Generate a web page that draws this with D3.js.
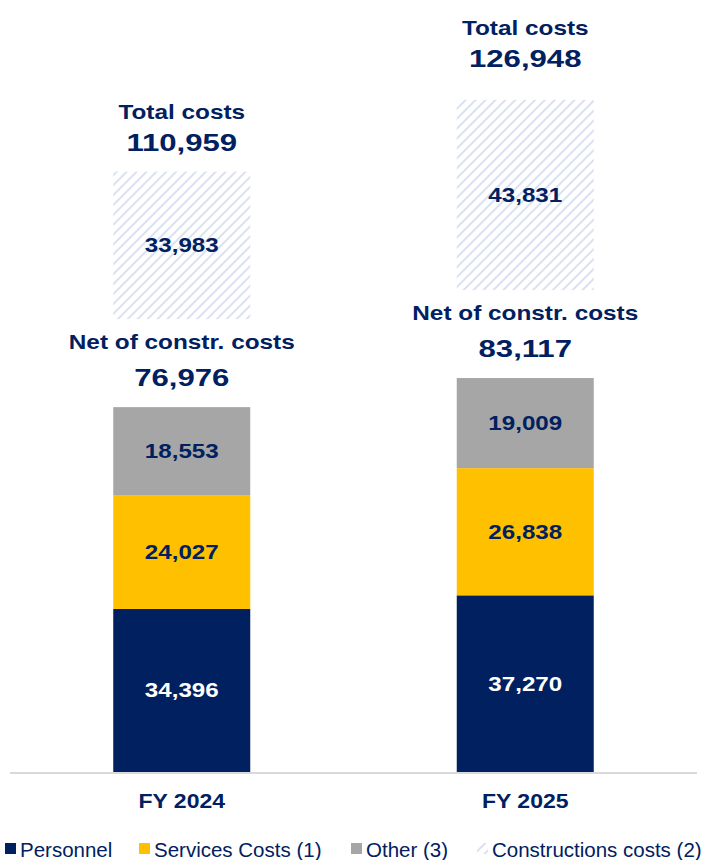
<!DOCTYPE html>
<html>
<head>
<meta charset="utf-8">
<script src="https://cdn.jsdelivr.net/npm/d3@7"></script>
<style>
  body { margin: 0; background: #fff; }
  text { font-family: "Liberation Sans", Arial, sans-serif; }
</style>
</head>
<body>
<div id="chart"></div>
<script>
// data
var years = ["FY 2024", "FY 2025"];
var personnel = [34396, 37270];
var services = [24027, 26838];
var other = [18553, 19009];
var construction = [33983, 43831];
var netTotals = [76976, 83117];
var totals = [110959, 126948];
var legendLabels = ["Personnel", "Services Costs (1)", "Other (3)", "Constructions costs (2)"];

var navy = "#002060";
var colors = [navy, "#FFC000", "#A6A6A6"];
var textColors = ["#fff", navy, navy];

var width = 707, height = 860;
var base = 772;
var fmt = d3.format(",");

var svg = d3.select("#chart").append("svg")
  .attr("width", width)
  .attr("height", height);

var defs = svg.append("defs");
var pat = defs.append("pattern")
  .attr("id", "hatch")
  .attr("patternUnits", "userSpaceOnUse")
  .attr("width", 7).attr("height", 7)
  .attr("patternTransform", "rotate(45)");
pat.append("line")
  .attr("x1", 0).attr("y1", 0).attr("x2", 0).attr("y2", 7)
  .attr("stroke", "#D9E1F2")
  .attr("stroke-width", 4);

// bold text, the reference glyphs run a bit wider than Liberation
function label(x, y, txt, size, sx, color) {
  return svg.append("text")
    .attr("transform", "translate(" + x + "," + y + ") scale(" + sx + ",1)")
    .attr("text-anchor", "middle")
    .attr("font-size", size)
    .attr("font-weight", "bold")
    .attr("fill", color || navy)
    .text(txt);
}

var x = d3.scaleBand()
  .domain(years)
  .range([10, 697])
  .paddingInner(0.6)
  .paddingOuter(0.3);

var bw = 137;
function cx(i) { return x(years[i]) + x.bandwidth() / 2; }

// stacked part
var y = d3.scaleLinear().domain([0, 100000]).range([base, base - 474]);
// construction bars are drawn on their own, smaller scale
var y2 = d3.scaleLinear().domain([0, 100000]).range([0, 434]);

var series = [personnel, services, other];
var stack = d3.stack().keys([0, 1, 2]).value(function (d, k) { return series[k][d]; });
var stacked = stack(d3.range(years.length));

stacked.forEach(function (layer, k) {
  layer.forEach(function (seg, i) {
    svg.append("rect")
      .attr("x", cx(i) - bw / 2)
      .attr("width", bw)
      .attr("y", y(seg[1]))
      .attr("height", y(seg[0]) - y(seg[1]))
      .attr("fill", colors[k]);
    label(cx(i), (y(seg[0]) + y(seg[1])) / 2 + 7, fmt(series[k][i]), 19.5, 1.24, textColors[k]);
  });
});

// axis line
svg.append("line")
  .attr("x1", 10).attr("x2", 697)
  .attr("y1", base + 1).attr("y2", base + 1)
  .attr("stroke", "#D9D9D9")
  .attr("stroke-width", 2);

years.forEach(function (d, i) {
  label(cx(i), 808, d, 19.5, 1.18);
});

var gap = 88;
var totalOffset = [21, 33];

years.forEach(function (yr, i) {
  var top = y(netTotals[i]);
  label(cx(i), top - 58, "Net of constr. costs", 21, 1.16);
  label(cx(i), top - 21, fmt(netTotals[i]), 24.5, 1.27);

  var hb = top - gap;
  var ht = hb - y2(construction[i]);
  svg.append("rect")
    .attr("x", cx(i) - bw / 2).attr("width", bw)
    .attr("y", ht).attr("height", hb - ht)
    .attr("fill", "url(#hatch)");
  label(cx(i), (ht + hb) / 2 + 7, fmt(construction[i]), 19.5, 1.24);

  label(cx(i), ht - totalOffset[i] - 32, "Total costs", 21, 1.16);
  label(cx(i), ht - totalOffset[i], fmt(totals[i]), 24.5, 1.27);
});

// legend
var legX = [5, 139, 351, 477];
var legFill = [navy, "#FFC000", "#A6A6A6", "url(#hatch)"];
var leg = svg.selectAll(".leg")
  .data(legendLabels)
  .enter().append("g")
  .attr("class", "leg")
  .attr("transform", function (d, i) { return "translate(" + legX[i] + ",850)"; });
leg.append("rect")
  .attr("x", 0).attr("y", -7)
  .attr("width", 11).attr("height", 11)
  .attr("fill", function (d, i) { return legFill[i]; });
leg.append("text")
  .attr("x", 15).attr("y", 7)
  .attr("font-size", 20.5)
  .attr("fill", navy)
  .text(function (d) { return d; });
</script>
</body>
</html>
